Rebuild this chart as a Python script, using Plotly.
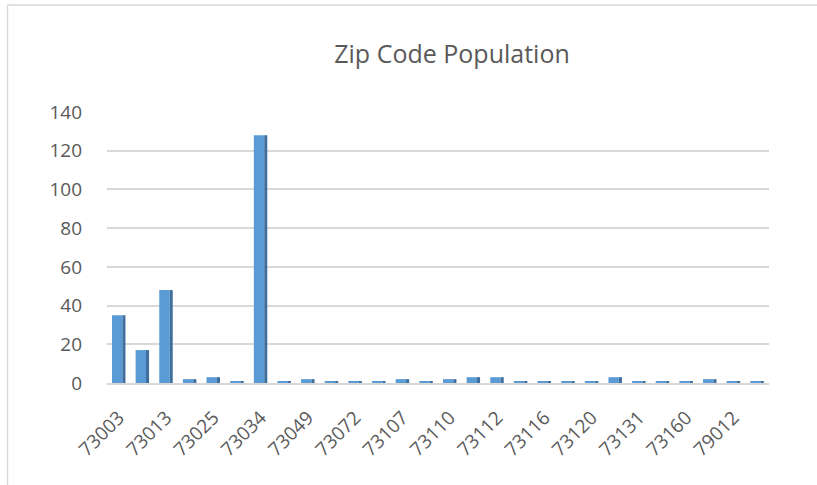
import plotly.graph_objects as go

zip_codes = ["73003", "73010", "73013", "73020", "73025", "73026", "73034", "73044",
             "73049", "73051", "73072", "73098", "73107", "73108", "73110", "73111",
             "73112", "73115", "73116", "73118", "73120", "73129", "73131", "73135",
             "73160", "74011", "79012", "79015"]
population = [35, 17, 48, 2, 3, 1, 128, 1,
              2, 1, 1, 1, 2, 1, 2, 3,
              3, 1, 1, 1, 1, 3, 1, 1,
              1, 2, 1, 1]
shown_ticks = zip_codes[::2]
y_ticks = [0, 20, 40, 60, 80, 100, 120, 140]

W, H = 817, 485
ml, mr, mt, mb = 107, 48, 112, 102
pw, ph = W - ml - mr, H - mt - mb

fig = go.Figure()
# front face
fig.add_trace(go.Bar(x=zip_codes, y=population, width=0.44, offset=-0.29,
                     marker=dict(color="#5B9BD5", line=dict(width=0)),
                     hoverinfo="x+y"))
# side face (3D shading)
fig.add_trace(go.Bar(x=zip_codes, y=population, width=0.13, offset=0.15,
                     marker=dict(color="#3F6F9E", line=dict(width=0)),
                     hoverinfo="skip"))

font_col = "#595959"
fig.update_layout(
    width=W, height=H,
    margin=dict(l=ml, r=mr, t=mt, b=mb),
    paper_bgcolor="white", plot_bgcolor="white",
    barmode="overlay", showlegend=False,
    title=dict(text="Zip Code Population", x=(452 / W), xanchor="center",
               y=1 - 54 / H, yanchor="middle",
               font=dict(family="Open Sans", size=25, color=font_col)),
    font=dict(family="Open Sans", size=19, color=font_col),
    xaxis=dict(type="category", tickmode="array", tickvals=shown_ticks,
               ticktext=shown_ticks, tickangle=-45, showgrid=False,
               showline=True, linecolor="#D9D9D9", linewidth=2,
               ticks="", ticklabelstandoff=14,
               tickfont=dict(family="Open Sans", size=19, color=font_col)),
    yaxis=dict(range=[0, 140], tickvals=y_ticks, showgrid=True,
               gridcolor="#D9D9D9", gridwidth=2, zeroline=False,
               showline=False, ticks="", ticklabelstandoff=24,
               tickfont=dict(family="Open Sans", size=19, color=font_col)),
)

# chart border (left and top edges of the chart frame)
fig.add_shape(type="line", xref="paper", yref="paper",
              x0=(7.5 - ml) / pw, x1=(7.5 - ml) / pw,
              y0=-(H - mt - ph + 10) / ph, y1=1 + (mt - 5) / ph,
              line=dict(color="#D9D9D9", width=1.5))
fig.add_shape(type="line", xref="paper", yref="paper",
              x0=(7.5 - ml) / pw, x1=1 + (mr + 10) / pw,
              y0=1 + (mt - 5) / ph, y1=1 + (mt - 5) / ph,
              line=dict(color="#D9D9D9", width=1.5))

fig.write_html("out.html", config={"displayModeBar": False},
               post_script="document.body.style.margin='0';document.body.style.overflow='hidden';")
